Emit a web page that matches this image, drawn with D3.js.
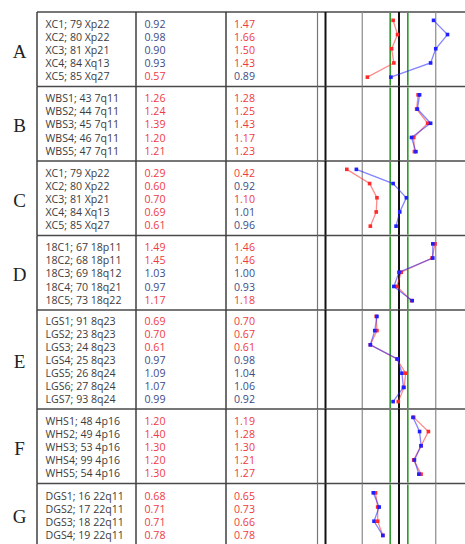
<!DOCTYPE html>
<html>
<head>
<meta charset="utf-8">
<script src="https://cdn.jsdelivr.net/npm/d3@7"></script>
<style>
  body { margin: 0; background: #fff; }
  svg { display: block; }
  .lbl { font-family: "Open Sans", sans-serif; font-size: 10.6px; fill: #3c3c3c; }
  .num { font-family: "Open Sans", sans-serif; font-size: 10.6px; }
  .sec { font-family: "Liberation Serif", serif; font-size: 19px; fill: #222; }
</style>
</head>
<body>
<svg id="chart"></svg>
<script>
const sections = ['A', 'B', 'C', 'D', 'E', 'F', 'G']

const labels = [
    ['XC1; 79 Xp22', 'XC2; 80 Xp22', 'XC3; 81 Xp21', 'XC4; 84 Xq13', 'XC5; 85 Xq27'],
    ['WBS1; 43 7q11', 'WBS2; 44 7q11', 'WBS3; 45 7q11', 'WBS4; 46 7q11', 'WBS5; 47 7q11'],
    ['XC1; 79 Xp22', 'XC2; 80 Xp22', 'XC3; 81 Xp21', 'XC4; 84 Xq13', 'XC5; 85 Xq27'],
    ['18C1; 67 18p11', '18C2; 68 18p11', '18C3; 69 18q12', '18C4; 70 18q21', '18C5; 73 18q22'],
    ['LGS1; 91 8q23', 'LGS2; 23 8q23', 'LGS3; 24 8q23', 'LGS4; 25 8q23', 'LGS5; 26 8q24', 'LGS6; 27 8q24', 'LGS7; 93 8q24'],
    ['WHS1; 48 4p16', 'WHS2; 49 4p16', 'WHS3; 53 4p16', 'WHS4; 99 4p16', 'WHS5; 54 4p16'],
    ['DGS1; 16 22q11', 'DGS2; 17 22q11', 'DGS3; 18 22q11', 'DGS4; 19 22q11']
]

// first ratio column (red line)
const ratio1 = [
    [0.92, 0.98, 0.90, 0.93, 0.57],
    [1.26, 1.24, 1.39, 1.20, 1.21],
    [0.29, 0.60, 0.70, 0.69, 0.61],
    [1.49, 1.45, 1.03, 0.97, 1.17],
    [0.69, 0.70, 0.61, 0.97, 1.09, 1.07, 0.99],
    [1.20, 1.40, 1.30, 1.20, 1.30],
    [0.68, 0.71, 0.71, 0.78]
]

// second ratio column (blue line)
const ratio2 = [
    [1.47, 1.66, 1.50, 1.43, 0.89],
    [1.28, 1.25, 1.43, 1.17, 1.23],
    [0.42, 0.92, 1.10, 1.01, 0.96],
    [1.46, 1.46, 1.00, 0.93, 1.18],
    [0.70, 0.67, 0.61, 0.98, 1.04, 1.06, 0.92],
    [1.19, 1.28, 1.30, 1.21, 1.27],
    [0.65, 0.73, 0.66, 0.78]
]

const axisTicks = [0, 0.5, 1, 1.5]
const thresholds = [0.88, 1.12]

const width = 465, height = 544

const svg = d3.select('#chart')
    .attr('width', width)
    .attr('height', height)

const x = d3.scaleLinear()
    .domain([0, 1.5])
    .range([325.5, 435.75])

const isAbnormal = v => v < 0.85 || v >= 1.1
const numColor = v => isAbnormal(v) ? '#f0393f' : '#3d4a86'

// section geometry from row counts
const rowH = 12.25, secPad = 13.25
let secTop = 12
const secs = sections.map((s, i) => {
    const n = labels[i].length
    const h = secPad + rowH * n
    const d = { name: s, i, n, top: secTop, h, mid: secTop + h / 2 }
    secTop += h
    return d
})

const colX = [37, 136, 226, 317.5]
const textRow = 13.05, plotRow = 14.2

const g = svg.append('g')

secs.forEach(sec => {
    const sg = g.append('g')
    const y0 = sec.top, y1 = sec.top + sec.h
    const ty = j => sec.mid + 1 + (j - (sec.n - 1) / 2) * textRow
    const py = j => sec.mid - 0.5 + (j - (sec.n - 1) / 2) * plotRow

    // table borders
    sg.append('line')
        .attr('x1', colX[0]).attr('x2', width)
        .attr('y1', y0).attr('y2', y0)
        .attr('stroke', '#4a4a4a').attr('stroke-width', 1.4)

    sg.selectAll('.col')
        .data(colX)
        .join('line')
        .attr('x1', d => d).attr('x2', d => d)
        .attr('y1', y0).attr('y2', y1)
        .attr('stroke', (d, i) => i < 3 ? '#333' : '#777')
        .attr('stroke-width', (d, i) => i < 3 ? 1.4 : 1.2)

    // axis reference lines
    sg.selectAll('.tick')
        .data(axisTicks)
        .join('line')
        .attr('x1', d => x(d)).attr('x2', d => x(d))
        .attr('y1', y0).attr('y2', y1)
        .attr('stroke', d => d % 1 === 0 ? '#111' : '#8a8a8a')
        .attr('stroke-width', d => d % 1 === 0 ? 2 : 1.2)

    sg.selectAll('.thr')
        .data(thresholds)
        .join('line')
        .attr('x1', d => x(d)).attr('x2', d => x(d))
        .attr('y1', y0 + 1).attr('y2', y1 - 1)
        .attr('stroke', '#2b992b')
        .attr('stroke-width', 1.6)

    // section letter
    sg.append('text')
        .attr('class', 'sec')
        .attr('x', 19.5)
        .attr('y', sec.mid + 2)
        .attr('text-anchor', 'middle')
        .attr('dominant-baseline', 'central')
        .text(sec.name)

    // row labels and values
    sg.selectAll('.lbl')
        .data(labels[sec.i])
        .join('text')
        .attr('class', 'lbl')
        .attr('x', 45.5)
        .attr('y', (d, j) => ty(j) + 3.7)
        .text(d => d)

    sg.selectAll('.n1')
        .data(ratio1[sec.i])
        .join('text')
        .attr('class', 'num')
        .attr('x', 144.5)
        .attr('y', (d, j) => ty(j) + 3.7)
        .attr('fill', numColor)
        .text(d => d.toFixed(2))

    sg.selectAll('.n2')
        .data(ratio2[sec.i])
        .join('text')
        .attr('class', 'num')
        .attr('x', 234)
        .attr('y', (d, j) => ty(j) + 3.7)
        .attr('fill', numColor)
        .text(d => d.toFixed(2))

    // profiles
    const series = [
        { vals: ratio1[sec.i], color: '#ff2a2a' },
        { vals: ratio2[sec.i], color: '#1f1fff' }
    ]
    series.forEach(s => {
        sg.append('path')
            .attr('d', d3.line().x(d => x(d)).y((d, j) => py(j))(s.vals))
            .attr('fill', 'none')
            .attr('stroke', s.color)
            .attr('stroke-opacity', 0.55)
            .attr('stroke-width', 1.3)
        sg.selectAll(null)
            .data(s.vals)
            .join('rect')
            .attr('x', d => x(d) - 1.8)
            .attr('y', (d, j) => py(j) - 1.8)
            .attr('width', 3.6).attr('height', 3.6)
            .attr('fill', s.color)
    })
})
</script>
</body>
</html>
